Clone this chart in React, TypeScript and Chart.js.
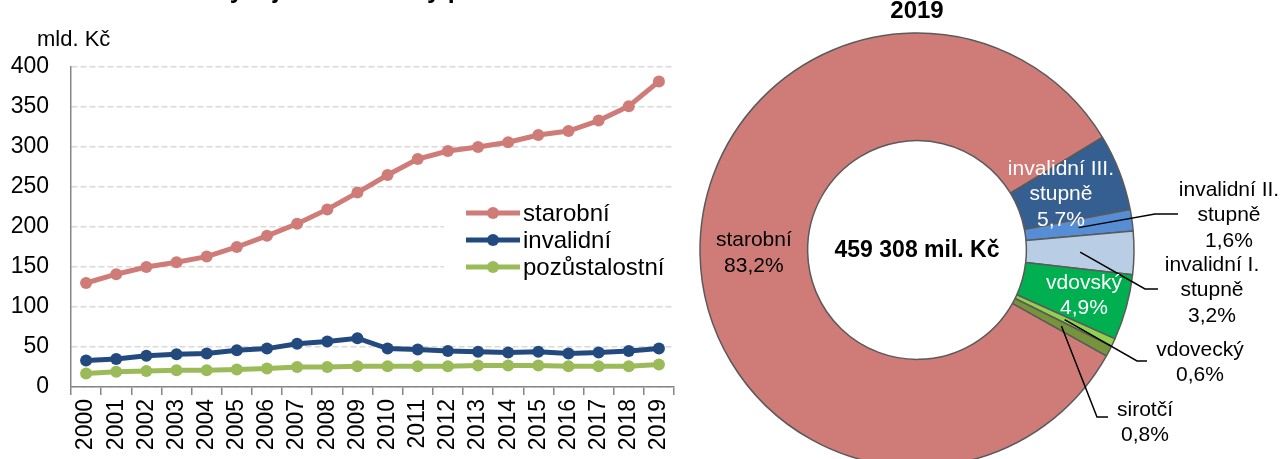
import React, { useEffect, useRef } from 'react';
import { Chart, registerables } from 'chart.js';

Chart.register(...registerables);

// ---------- data ----------
const years = ['2000', '2001', '2002', '2003', '2004', '2005', '2006', '2007', '2008', '2009', '2010', '2011', '2012', '2013', '2014', '2015', '2016', '2017', '2018', '2019'];
const starobni = [130, 141, 150, 156, 163, 175, 189, 204, 222, 243, 265, 285, 295, 300, 306, 315, 320, 333, 351, 382];
const invalidni = [33, 35, 39, 41, 42, 46, 48, 54, 57, 61, 48, 47, 45, 44, 43, 44, 42, 43, 45, 48];
const pozustalostni = [17, 19, 20, 21, 21, 22, 23, 25, 25, 26, 26, 26, 26, 27, 27, 27, 26, 26, 26, 28];
const seriesNames = ['starobní', 'invalidní', 'pozůstalostní'];
const yMin = 0;
const yMax = 400;
const yStep = 50;
const unitLabel = 'mld. Kč';
const leftTitle = 'Výdaje na důchody podle druhu';

const pieNames = [['starobní'], ['invalidní III.', 'stupně'], ['invalidní II.', 'stupně'], ['invalidní I.', 'stupně'], ['vdovský'], ['vdovecký'], ['sirotčí']];
const pieShares = [83.2, 5.7, 1.6, 3.2, 4.9, 0.6, 0.8];
const pieYear = '2019';
const pieTotal = '459 308 mil. Kč';

// ---------- styles ----------
const FONT = "'Liberation Sans', Arial, sans-serif";
const lineColors = ['#CF7C79', '#234A7E', '#9BBB59'];
const pieColors = ['#CF7C79', '#365F91', '#558ED5', '#B9CDE5', '#00B050', '#92D050', '#77933C'];
const RIGHT_OFFSET = 680;

// label placement styles for the doughnut (page coordinates)
const insideLabels: Record<number, { color: string; dr: number }> = {
  0: { color: '#000', dr: 0 },
  1: { color: '#fff', dr: -9 },
  4: { color: '#fff', dr: 10 },
};
const outsideLabels: Record<number, { x: number; y: number; path: number[][] }> = {
  2: { x: 1229, y: 190, path: [[1155, 214], [1178, 214]] },
  3: { x: 1212, y: 265, path: [[1145, 289], [1158, 289]] },
  5: { x: 1200, y: 350, path: [[1137, 361], [1147, 361]] },
  6: { x: 1145, y: 410, path: [[1097, 417], [1108, 417]] },
};

const pct = (v: number) => v.toFixed(1).replace('.', ',') + '%';

function LineChart() {
  const ref = useRef<HTMLCanvasElement>(null);
  useEffect(() => {
    const series = [starobni, invalidni, pozustalostni];
    const legendPlugin = {
      id: 'customLegend',
      beforeDatasetsDraw(chart: any) {
        const ctx = chart.ctx;
        ctx.save();
        ctx.fillStyle = '#fff';
        ctx.fillRect(444, 196, 236, 88);
        seriesNames.forEach((name, i) => {
          const y = 213 + i * 27;
          ctx.strokeStyle = lineColors[i];
          ctx.lineWidth = 5;
          ctx.beginPath();
          ctx.moveTo(466, y);
          ctx.lineTo(520, y);
          ctx.stroke();
          ctx.fillStyle = lineColors[i];
          ctx.beginPath();
          ctx.arc(493, y, 6, 0, Math.PI * 2);
          ctx.fill();
          ctx.fillStyle = '#000';
          ctx.font = `24px ${FONT}`;
          ctx.textAlign = 'left';
          ctx.textBaseline = 'middle';
          ctx.fillText(name, 523, y + 1);
        });
        ctx.restore();
      },
      afterDraw(chart: any) {
        const ctx = chart.ctx;
        ctx.save();
        ctx.fillStyle = '#000';
        ctx.font = `22px ${FONT}`;
        ctx.textAlign = 'left';
        ctx.textBaseline = 'middle';
        ctx.fillText(unitLabel, 37, 40);
        ctx.font = `bold 25px ${FONT}`;
        ctx.textBaseline = 'alphabetic';
        ctx.fillText(leftTitle, 213, -2);
        ctx.restore();
      },
    };
    const chart = new Chart(ref.current!, {
      type: 'line',
      data: {
        labels: years,
        datasets: series.map((d, i) => ({
          label: seriesNames[i],
          data: d,
          borderColor: lineColors[i],
          backgroundColor: lineColors[i],
          pointBackgroundColor: lineColors[i],
          pointBorderColor: lineColors[i],
          borderWidth: 5,
          pointRadius: 6,
          pointBorderWidth: 0,
          tension: 0,
        })),
      },
      options: {
        responsive: false,
        animation: false,
        layout: { padding: { left: 0, right: 6, top: 67, bottom: 0 } },
        plugins: { legend: { display: false }, tooltip: { enabled: false } },
        scales: {
          x: {
            offset: true,
            grid: { offset: true, drawOnChartArea: false, drawTicks: true, tickLength: 8, color: '#868686', lineWidth: 1.5 },
            border: { display: true, color: '#868686', width: 1.5 },
            ticks: { minRotation: 90, maxRotation: 90, autoSkip: false, color: '#000', font: { family: FONT, size: 23 }, padding: 4 },
            afterFit: (s: any) => { s.height = 72; s.paddingLeft = 0; s.paddingRight = 0; },
          },
          y: {
            min: yMin,
            max: yMax,
            ticks: { stepSize: yStep, color: '#000', font: { family: FONT, size: 23 }, padding: 22 },
            grid: { color: '#D9D9D9', lineWidth: 1.5, drawTicks: false },
            border: { display: true, color: '#868686', width: 1.5, dash: [6, 3] },
            afterFit: (s: any) => { s.width = 71; },
          },
        },
      },
      plugins: [legendPlugin],
    });
    return () => chart.destroy();
  }, []);
  return <canvas ref={ref} width={680} height={459} style={{ position: 'absolute', left: 0, top: 0 }} />;
}

function PieChart() {
  const ref = useRef<HTMLCanvasElement>(null);
  useEffect(() => {
    const labelPlugin = {
      id: 'pieLabels',
      afterDraw(chart: any) {
        const ctx = chart.ctx;
        const meta = chart.getDatasetMeta(0);
        const first = meta.data[0];
        const cx = first.x;
        const cy = first.y;
        ctx.save();
        ctx.textAlign = 'center';
        ctx.textBaseline = 'middle';
        ctx.fillStyle = '#000';
        ctx.font = `bold 24px ${FONT}`;
        ctx.fillText(pieYear, cx, 11);
        ctx.font = `bold 23px ${FONT}`;
        ctx.fillText(pieTotal, cx, cy + 1);
        ctx.font = `21px ${FONT}`;
        const LH = 25.5;
        meta.data.forEach((arc: any, i: number) => {
          const lines = [...pieNames[i], pct(pieShares[i])];
          const mid = (arc.startAngle + arc.endAngle) / 2;
          const rMid = (arc.innerRadius + arc.outerRadius) / 2;
          if (insideLabels[i]) {
            const r = rMid + insideLabels[i].dr;
            const x = cx + Math.cos(mid) * r;
            const y = cy + Math.sin(mid) * r;
            ctx.fillStyle = insideLabels[i].color;
            lines.forEach((t, k) => ctx.fillText(t, x, y + (k - (lines.length - 1) / 2) * LH));
          } else if (outsideLabels[i]) {
            const o = outsideLabels[i];
            const sx = cx + Math.cos(mid) * rMid;
            const sy = cy + Math.sin(mid) * rMid;
            ctx.strokeStyle = '#000';
            ctx.lineWidth = 1.5;
            ctx.beginPath();
            ctx.moveTo(sx, sy);
            o.path.forEach((p) => ctx.lineTo(p[0] - RIGHT_OFFSET, p[1]));
            ctx.stroke();
            ctx.fillStyle = '#000';
            lines.forEach((t, k) => ctx.fillText(t, o.x - RIGHT_OFFSET, o.y + k * LH));
          }
        });
        ctx.restore();
      },
    };
    const chart = new Chart(ref.current!, {
      type: 'doughnut',
      data: {
        labels: pieNames.map((n) => n.join(' ')),
        datasets: [{
          data: pieShares,
          backgroundColor: pieColors,
          borderColor: '#5A5A5A',
          borderWidth: 1.5,
        }],
      },
      options: {
        responsive: false,
        animation: false,
        rotation: 119.2,
        radius: 217,
        cutout: 109,
        layout: { padding: { left: 20, right: 148, top: 33, bottom: 33 } },
        plugins: { legend: { display: false }, tooltip: { enabled: false } },
      },
      plugins: [labelPlugin],
    });
    return () => chart.destroy();
  }, []);
  return <canvas ref={ref} width={602} height={500} style={{ position: 'absolute', left: RIGHT_OFFSET, top: 0 }} />;
}

export default function App() {
  return (
    <div style={{ position: 'fixed', left: 0, top: 0, width: 1282, height: 459, overflow: 'hidden', background: '#fff' }}>
      <LineChart />
      <PieChart />
    </div>
  );
}
